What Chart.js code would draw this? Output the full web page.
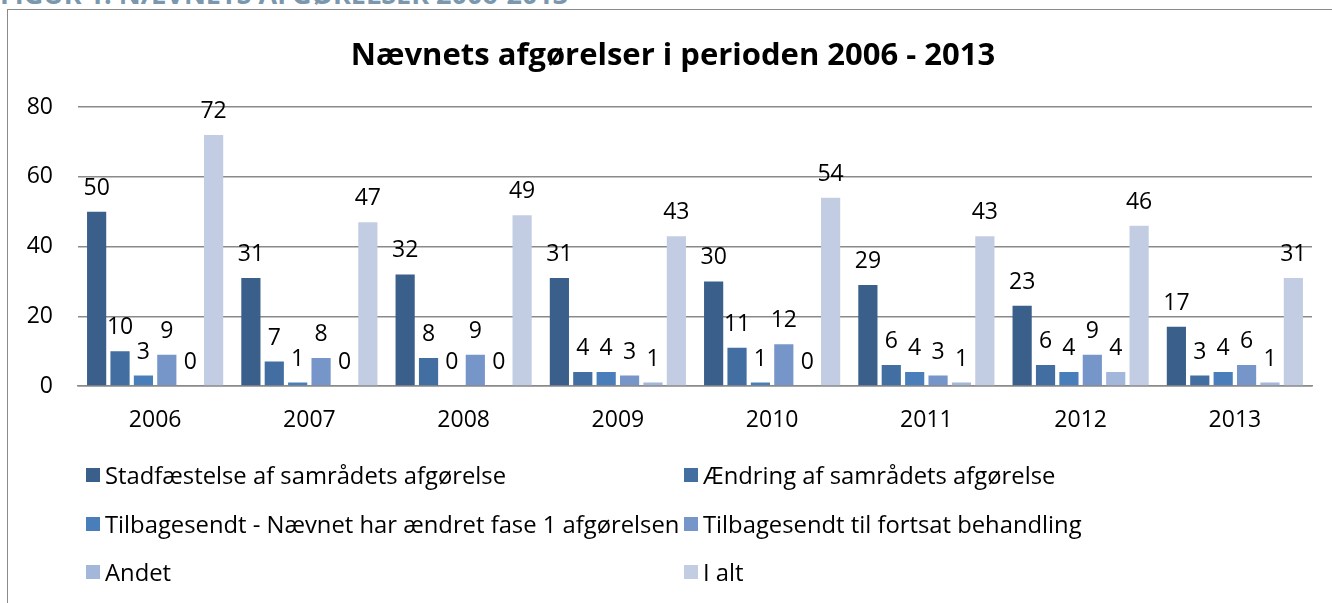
<!DOCTYPE html>
<html>
<head>
<meta charset="utf-8">
<script src="https://cdn.jsdelivr.net/npm/chart.js@4.4.1/dist/chart.umd.min.js"></script>
<style>
  html, body { margin: 0; padding: 0; background: #fff; }
  body { width: 1332px; height: 603px; position: relative; overflow: hidden; font-family: "Open Sans", sans-serif; }
  #hdr { position: absolute; left: 0; top: -23px; font: bold 27px "Open Sans", sans-serif; line-height: 34px; color: #7a97ad; white-space: nowrap; }
  #frame { position: absolute; left: 7px; top: 9px; width: 1400px; height: 700px; border: 1.5px solid #8a8a8a; box-sizing: border-box; }
  #wrap { position: absolute; left: 0; top: 0; width: 1332px; height: 603px; }
  #legend { position: absolute; left: 86px; top: 451px; display: grid; grid-template-columns: 598px 600px; }
  .li { display: flex; align-items: center; height: 48.5px; font: 23.8px "Open Sans", sans-serif; color: #000; white-space: nowrap; }
  .sw { width: 14px; height: 14px; margin-right: 5px; flex: none; }
</style>
</head>
<body>
<div id="hdr">FIGUR 1: NÆVNETS AFGØRELSER 2006-2013</div>
<div id="frame"></div>
<div id="wrap"><canvas id="c" width="1332" height="603"></canvas></div>
<div id="legend"></div>
<script>
const chartTitle = "Nævnets afgørelser i perioden 2006 - 2013";
const categories = ["2006", "2007", "2008", "2009", "2010", "2011", "2012", "2013"];
const seriesNames = [
  "Stadfæstelse af samrådets afgørelse",
  "Ændring af samrådets afgørelse",
  "Tilbagesendt - Nævnet har ændret fase 1 afgørelsen",
  "Tilbagesendt  til fortsat behandling",
  "Andet",
  "I alt"
];
const stadfaestelse = [50, 31, 32, 31, 30, 29, 23, 17];
const aendring      = [10, 7, 8, 4, 11, 6, 6, 3];
const tilbageFase1  = [3, 1, 0, 4, 1, 4, 4, 4];
const tilbageFortsat = [9, 8, 9, 3, 12, 3, 9, 6];
const andet         = [0, 0, 0, 1, 0, 1, 4, 1];
const iAlt          = [72, 47, 49, 43, 54, 43, 46, 31];
const yTicks = [0, 20, 40, 60, 80];

const seriesValues = [stadfaestelse, aendring, tilbageFase1, tilbageFortsat, andet, iAlt];
const colors = ["#3A5F8B", "#426EA2", "#4A7EBB", "#7695C8", "#A3B7DA", "#C2CDE3"];

const valueLabels = {
  id: 'valueLabels',
  afterLayout(chart) {
    const t = chart.titleBlock;
    if (t) { t.left += 34; }
  },
  afterDatasetsDraw(chart) {
    const ctx = chart.ctx;
    ctx.save();
    ctx.font = '23px "Open Sans", sans-serif';
    ctx.fillStyle = '#000';
    ctx.textAlign = 'center';
    ctx.textBaseline = 'alphabetic';
    chart.data.datasets.forEach((ds, i) => {
      const meta = chart.getDatasetMeta(i);
      meta.data.forEach((bar, j) => {
        ctx.fillText(String(ds.data[j]), bar.x, bar.y - 17);
      });
    });
    ctx.restore();
  }
};

const chart = new Chart(document.getElementById('c'), {
  type: 'bar',
  data: {
    labels: categories,
    datasets: seriesValues.map((vals, i) => ({
      label: seriesNames[i],
      data: vals,
      backgroundColor: colors[i],
      categoryPercentage: 0.91,
      barPercentage: 0.82
    }))
  },
  options: {
    responsive: false,
    animation: false,
    layout: { padding: { left: 0, right: 20, top: 0, bottom: 157 } },
    plugins: {
      legend: { display: false },
      tooltip: { enabled: false },
      title: {
        display: true,
        text: chartTitle,
        color: '#000',
        font: { family: '"Open Sans", sans-serif', size: 31, weight: 'bold' },
        padding: { top: 38, bottom: 32 }
      }
    },
    scales: {
      x: {
        grid: { display: false, drawTicks: false },
        border: { display: true, color: '#8a8a8a', width: 1.5 },
        ticks: { color: '#000', font: { family: '"Open Sans", sans-serif', size: 23 }, padding: 21 },
        afterFit(s) { s.height = 60; }
      },
      y: {
        min: 0, max: 80,
        afterBuildTicks(s) { s.ticks = yTicks.map(v => ({ value: v })); },
        grid: { color: '#8a8a8a', lineWidth: 1.5, drawTicks: false },
        border: { display: false },
        ticks: { color: '#000', font: { family: '"Open Sans", sans-serif', size: 23 }, padding: 25 },
        afterFit(s) { s.width = 78; }
      }
    }
  },
  plugins: [valueLabels]
});

const lg = document.getElementById('legend');
chart.data.datasets.forEach(ds => {
  const d = document.createElement('div');
  d.className = 'li';
  const sw = document.createElement('span');
  sw.className = 'sw';
  sw.style.background = ds.backgroundColor;
  const t = document.createElement('span');
  t.textContent = ds.label;
  d.appendChild(sw); d.appendChild(t);
  lg.appendChild(d);
});
</script>
</body>
</html>
